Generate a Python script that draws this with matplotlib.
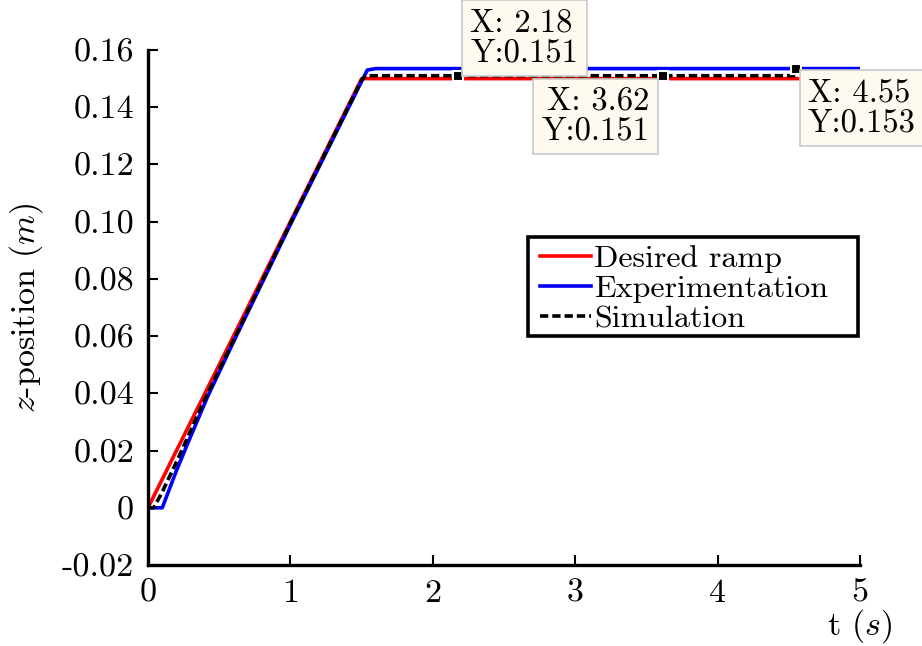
import matplotlib
matplotlib.use("Agg")
import matplotlib.pyplot as plt
from matplotlib.patches import Rectangle

plt.rcParams['font.family'] = 'serif'
plt.rcParams['font.serif'] = ['cmr10']
plt.rcParams['mathtext.fontset'] = 'cm'
plt.rcParams['axes.unicode_minus'] = False

# Data
t_ramp = [0.0, 1.5, 4.57]
z_ramp = [0.0, 0.150, 0.150]

t_exp = [0.0, 0.10, 0.20, 0.30, 0.42, 0.62, 1.00, 1.50, 1.54, 1.60, 5.00]
z_exp = [0.0, 0.0, 0.013, 0.025, 0.039, 0.060, 0.099, 0.149, 0.1530, 0.1535, 0.1535]

t_sim = [0.0, 0.04, 0.10, 0.20, 0.40, 0.60, 1.00, 1.50, 1.53, 4.57]
z_sim = [0.0, 0.0, 0.0055, 0.016, 0.038, 0.0585, 0.0995, 0.1495, 0.151, 0.151]

tips_x = [2.18, 3.62, 4.55]
tips_y = [0.151, 0.151, 0.1535]
tips_text = ["X: 2.18\nY:0.151", "X: 3.62\nY:0.151", "X: 4.55\nY:0.153"]

xticks = [0, 1, 2, 3, 4, 5]
yticks = [-0.02, 0, 0.02, 0.04, 0.06, 0.08, 0.10, 0.12, 0.14, 0.16]
ytick_labels = ['-0.02', '0', '0.02', '0.04', '0.06', '0.08', '0.10', '0.12', '0.14', '0.16']

fig = plt.figure(figsize=(9.22, 6.46), dpi=100)
ax = fig.add_axes([148/922, 1-565/646, 712/922, 515/646])

lw = 2.6
dash = (0, (2.3, 1.1))
ax.plot(t_ramp, z_ramp, color='#ff0000', lw=lw, label='Desired ramp', zorder=2)
ax.plot(t_exp, z_exp, color='#0000ff', lw=lw, label='Experimentation', zorder=3)
ax.plot(t_sim, z_sim, color='black', lw=lw, ls=dash, label='Simulation', zorder=4)

ax.plot(tips_x, tips_y, ls='none', marker='s', ms=7, mfc='black', mec='white', mew=1.5, zorder=6)

fs_tip = 23.5
offsets = [((12, 8), 'left', 'bottom'), ((-14, -11), 'right', 'top'), ((12, -10), 'left', 'top')]
for x, y, s, (off, ha, va) in zip(tips_x, tips_y, tips_text, offsets):
    ax.annotate(s, xy=(x, y), xytext=off, textcoords='offset pixels', ha=ha, va=va,
                fontsize=fs_tip, linespacing=1.05, zorder=7, annotation_clip=False,
                bbox=dict(boxstyle='square,pad=0.25', fc='#fffaf0', ec='#c8c8c8', lw=1.2))

ax.set_xlim(0, 5)
ax.set_ylim(-0.02, 0.16)
ax.set_xticks(xticks)
ax.set_xticklabels([str(v) for v in xticks])
ax.set_yticks(yticks)
ax.set_yticklabels(ytick_labels)
ax.tick_params(direction='in', length=7, width=1.5, labelsize=24.5, pad=10)

for side in ['top', 'right']:
    ax.spines[side].set_visible(False)
for side in ['left', 'bottom']:
    ax.spines[side].set_linewidth(2.4)

ax.set_ylabel(r'$z$-position $(m)$', fontsize=24.5, labelpad=12)
ax.set_xlabel(r't $(s)$', fontsize=24.5)
ax.xaxis.set_label_coords(1.0, -0.082)

# Legend box (drawn separately, MATLAB-style padding)
bx0 = (528 - 148) / 712
by1 = (565 - 237) / 515
bw = (858 - 528) / 712
bh = (336 - 237) / 515
ax.add_patch(Rectangle((bx0, by1 - bh), bw, bh, transform=ax.transAxes, fc='white',
                       ec='black', lw=2.6, zorder=8, clip_on=False))
leg = ax.legend(loc='upper left', bbox_to_anchor=((540 - 148) / 712, (565 - 245) / 515),
                fontsize=23, frameon=False, handlelength=1.6, handletextpad=0.1,
                borderpad=0, labelspacing=0.05, borderaxespad=0)
leg.set_zorder(9)

fig.savefig('out.png', dpi=100)
